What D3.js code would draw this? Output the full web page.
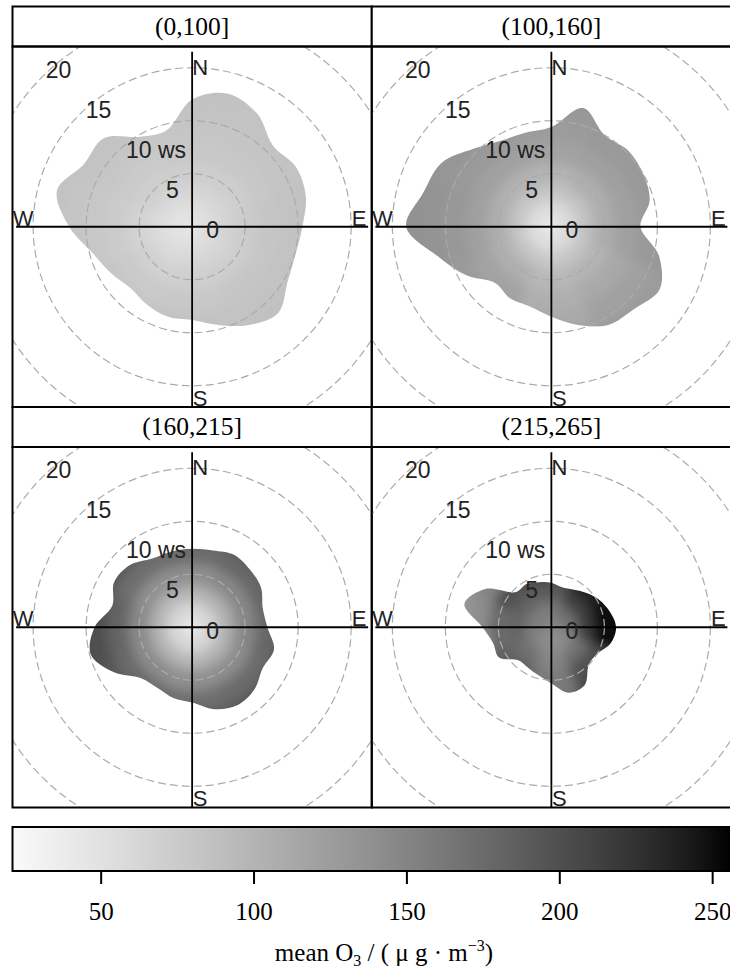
<!DOCTYPE html>
<html>
<head>
<meta charset="utf-8">
<script src="https://cdn.jsdelivr.net/npm/d3@7"></script>
<style>
  body { margin: 0; background: #fff; }
  .serif { font-family: "Liberation Serif", "DejaVu Serif", serif; }
  .sans { font-family: "Liberation Sans", Arial, sans-serif; }
</style>
</head>
<body>
<div id="chart"></div>
<script>
// panel titles: O3 concentration bins
const panels = ["(0,100]", "(100,160]", "(160,215]", "(215,265]"];

// directions (deg clockwise from N) where the edge of each surface was read
const extentDirs = [0, 15, 30, 45, 60, 75, 90, 105, 120, 135, 150, 165,
                    180, 195, 210, 225, 240, 255, 270, 285, 300, 315, 330, 345];

// outer edge of the surface in wind speed units, one array per panel
const extent1 = [12.0, 13.0, 12.3, 10.8, 11.3, 11.1, 10.4, 10.1, 10.4, 11.5, 10.7, 9.6,
                 8.8, 8.8, 8.5, 8.2, 8.8, 9.7, 11.6, 13.2, 11.8, 11.8, 9.8, 9.4];
const extent2 = [9.4, 11.6, 10.0, 10.2, 10.0, 9.6, 8.4, 10.5, 11.8, 11.0, 10.7, 9.6,
                 8.5, 7.8, 7.8, 7.5, 9.2, 11.0, 13.7, 12.5, 12.0, 10.4, 9.4, 9.2];
const extent3 = [7.4, 7.5, 7.9, 7.7, 7.5, 6.9, 7.1, 8.0, 7.7, 8.3, 8.5, 8.0,
                 7.1, 6.9, 6.6, 6.8, 8.5, 9.9, 9.2, 7.8, 8.5, 8.3, 7.5, 7.4];
const extent4 = [4.2, 3.9, 4.1, 4.6, 5.2, 5.7, 6.1, 5.8, 5.0, 5.0, 6.3, 6.4,
                 5.3, 4.7, 4.4, 4.4, 5.7, 5.7, 6.5, 8.5, 7.2, 4.7, 4.7, 4.4];

// cells of the surface: wind speed bin edges and sector centres
const speedEdges = [0, 1, 2.5, 4, 6, 8, 10, 12, 16];
const sectorDirs = [0, 45, 90, 135, 180, 225, 270, 315];

// mean O3 per cell, rows = speed bins, columns = sectors N NE E SE S SW W NW
const surface1 = [
  [46, 46, 47, 47, 46, 45, 44, 45],
  [52, 54, 56, 55, 53, 50, 48, 50],
  [62, 64, 66, 64, 62, 58, 56, 60],
  [72, 72, 74, 72, 70, 68, 66, 70],
  [78, 78, 80, 80, 78, 76, 74, 76],
  [80, 82, 84, 84, 84, 82, 78, 80],
  [84, 84, 86, 86, 86, 84, 82, 84],
  [86, 84, 86, 86, 86, 86, 84, 86]
];
const surface2 = [
  [40, 40, 42, 42, 40, 40, 40, 40],
  [56, 58, 60, 58, 56, 56, 56, 56],
  [80, 84, 86, 82, 78, 82, 82, 80],
  [100, 106, 108, 100, 96, 104, 106, 102],
  [118, 122, 122, 112, 106, 118, 122, 120],
  [126, 128, 128, 120, 112, 126, 130, 128],
  [130, 132, 132, 126, 120, 130, 134, 132],
  [132, 134, 134, 130, 126, 132, 136, 134]
];
const surface3 = [
  [42, 42, 42, 42, 42, 42, 42, 42],
  [64, 66, 66, 64, 62, 62, 62, 62],
  [100, 104, 104, 100, 98, 100, 100, 98],
  [140, 146, 146, 140, 138, 142, 144, 138],
  [174, 178, 178, 174, 172, 176, 180, 172],
  [194, 196, 196, 192, 192, 196, 200, 192],
  [200, 200, 200, 198, 198, 202, 206, 200],
  [202, 202, 202, 200, 200, 204, 208, 202]
];
const surface4 = [
  [145, 150, 145, 140, 140, 145, 150, 150],
  [160, 175, 165, 145, 140, 150, 158, 160],
  [190, 215, 215, 170, 150, 170, 180, 185],
  [205, 240, 250, 200, 160, 185, 175, 200],
  [205, 245, 255, 210, 165, 185, 140, 150],
  [205, 245, 255, 210, 165, 185, 130, 135],
  [205, 245, 255, 210, 165, 185, 130, 135],
  [205, 245, 255, 210, 165, 185, 130, 135]
];

// dashed speed circles and their labels
const gridSpeeds = [5, 10, 15, 20];
const speedLabels = [0, 5, 10, 15, 20];

// colour key
const legendDomain = [21, 256];
const legendTicks = [50, 100, 150, 200, 250];

const extents = [extent1, extent2, extent3, extent4];
const surfaces = [surface1, surface2, surface3, surface4];

// layout
const frameLeft = 12.5, frameTop = 6.5, colW = 359.25, stripH = 40, plotH = 360.5;

const svg = d3.select("#chart").append("svg")
  .attr("width", 730)
  .attr("height", 976);
const defs = svg.append("defs");

defs.append("filter").attr("id", "soft")
  .append("feGaussianBlur").attr("stdDeviation", 6);

const r = d3.scaleLinear().domain([0, 20]).range([0, 212]);
const rad = d => d * Math.PI / 180;

const colour = d3.scaleSequential(d3.interpolateRgb.gamma(1.25)("#fafafa", "#000000"))
  .domain(legendDomain);

const blobLine = d3.lineRadial()
  .angle(d => rad(d[0]))
  .radius(d => r(d[1]))
  .curve(d3.curveCatmullRomClosed.alpha(0.5));

const arc = d3.arc();

panels.forEach((title, i) => {
  const col = i % 2, row = Math.floor(i / 2);
  const x0 = frameLeft + col * colW;
  const y0 = frameTop + row * (stripH + plotH);
  const cx = x0 + colW / 2;
  const cy = y0 + stripH + plotH / 2;

  defs.append("clipPath").attr("id", "plot" + i)
    .append("rect")
    .attr("x", x0).attr("y", y0 + stripH)
    .attr("width", colW).attr("height", plotH);

  defs.append("clipPath").attr("id", "blob" + i)
    .append("path")
    .attr("d", blobLine(extentDirs.map((a, k) => [a, extents[i][k]])));

  const g = svg.append("g").attr("clip-path", `url(#plot${i})`)
    .append("g").attr("transform", `translate(${cx},${cy})`);

  // surface cells, softened and cut to the data edge
  const cells = [];
  surfaces[i].forEach((vals, k) => vals.forEach((v, j) => {
    cells.push({ k, j, v });
  }));
  g.append("g").attr("clip-path", `url(#blob${i})`)
    .append("g").attr("filter", "url(#soft)")
    .selectAll("path")
    .data(cells)
    .join("path")
    .attr("d", d => arc({
      innerRadius: r(speedEdges[d.k]),
      outerRadius: r(speedEdges[d.k + 1]),
      startAngle: rad(sectorDirs[d.j] - 22.5),
      endAngle: rad(sectorDirs[d.j] + 22.5)
    }))
    .attr("fill", d => colour(d.v))
    .attr("stroke", d => colour(d.v))
    .attr("stroke-width", 0.6);

  // dashed speed circles
  g.selectAll("circle")
    .data(gridSpeeds)
    .join("circle")
    .attr("r", d => r(d))
    .attr("fill", "none")
    .attr("stroke", "#ababab")
    .attr("stroke-width", 1.2)
    .attr("stroke-dasharray", "8,4");

  // cross hair
  g.append("line")
    .attr("x1", -176).attr("x2", 176).attr("y1", 0).attr("y2", 0)
    .attr("stroke", "#000").attr("stroke-width", 1.8);
  g.append("line")
    .attr("x1", 0).attr("x2", 0).attr("y1", -175).attr("y2", 182)
    .attr("stroke", "#000").attr("stroke-width", 1.8);

  // speed labels along the NW diagonal
  g.selectAll("text.ws")
    .data(speedLabels)
    .join("text")
    .attr("class", "ws sans")
    .attr("x", d => -Math.SQRT1_2 * r(1.07 * d) + 14)
    .attr("y", d => -Math.SQRT1_2 * r(1.07 * d) + 3)
    .attr("dy", "0.36em")
    .attr("font-size", 23)
    .attr("fill", "#222")
    .text(d => d === 10 ? "10 ws" : d);

  // compass letters
  const compass = [["N", 8, -160], ["E", 167, -9], ["S", 8, 171], ["W", -169, -9]];
  g.selectAll("text.cp")
    .data(compass)
    .join("text")
    .attr("class", "cp sans")
    .attr("x", d => d[1])
    .attr("y", d => d[2])
    .attr("dy", "0.36em")
    .attr("text-anchor", "middle")
    .attr("font-size", 22)
    .attr("fill", "#222")
    .text(d => d[0]);

  // strip and frame
  svg.append("rect")
    .attr("x", x0).attr("y", y0).attr("width", colW).attr("height", stripH)
    .attr("fill", "#fff").attr("stroke", "#000").attr("stroke-width", 2);
  svg.append("text")
    .attr("class", "serif")
    .attr("x", cx).attr("y", y0 + stripH / 2 + 8)
    .attr("text-anchor", "middle")
    .attr("font-size", 25.5)
    .text(title);
  svg.append("rect")
    .attr("x", x0).attr("y", y0 + stripH).attr("width", colW).attr("height", plotH)
    .attr("fill", "none").attr("stroke", "#000").attr("stroke-width", 2);
});

// colour key
const cbX = d3.scaleLinear().domain(legendDomain).range([12.5, 731]);
const grad = defs.append("linearGradient").attr("id", "cb");
d3.range(0, 1.0001, 0.05).forEach(t => {
  grad.append("stop")
    .attr("offset", t)
    .attr("stop-color", colour(legendDomain[0] + t * (legendDomain[1] - legendDomain[0])));
});

svg.append("rect")
  .attr("x", cbX(legendDomain[0])).attr("y", 827)
  .attr("width", cbX(legendDomain[1]) - cbX(legendDomain[0])).attr("height", 44)
  .attr("fill", "url(#cb)")
  .attr("stroke", "#000").attr("stroke-width", 2);

svg.selectAll("line.tick")
  .data(legendTicks)
  .join("line")
  .attr("class", "tick")
  .attr("x1", d => cbX(d)).attr("x2", d => cbX(d))
  .attr("y1", 871).attr("y2", 884)
  .attr("stroke", "#000").attr("stroke-width", 2);

svg.selectAll("text.tick")
  .data(legendTicks)
  .join("text")
  .attr("class", "tick serif")
  .attr("x", d => cbX(d)).attr("y", 920)
  .attr("text-anchor", "middle")
  .attr("font-size", 25)
  .text(d => d);

const ttl = svg.append("text")
  .attr("class", "serif")
  .attr("x", 384).attr("y", 961)
  .attr("text-anchor", "middle")
  .attr("font-size", 25);
ttl.append("tspan").text("mean O");
ttl.append("tspan").attr("dy", 5).attr("font-size", 16).text("3");
ttl.append("tspan").attr("dy", -5).text(" / ( μ g · m");
ttl.append("tspan").attr("dy", -10).attr("font-size", 16).text("−3");
ttl.append("tspan").attr("dy", 10).text(")");
</script>
</body>
</html>
